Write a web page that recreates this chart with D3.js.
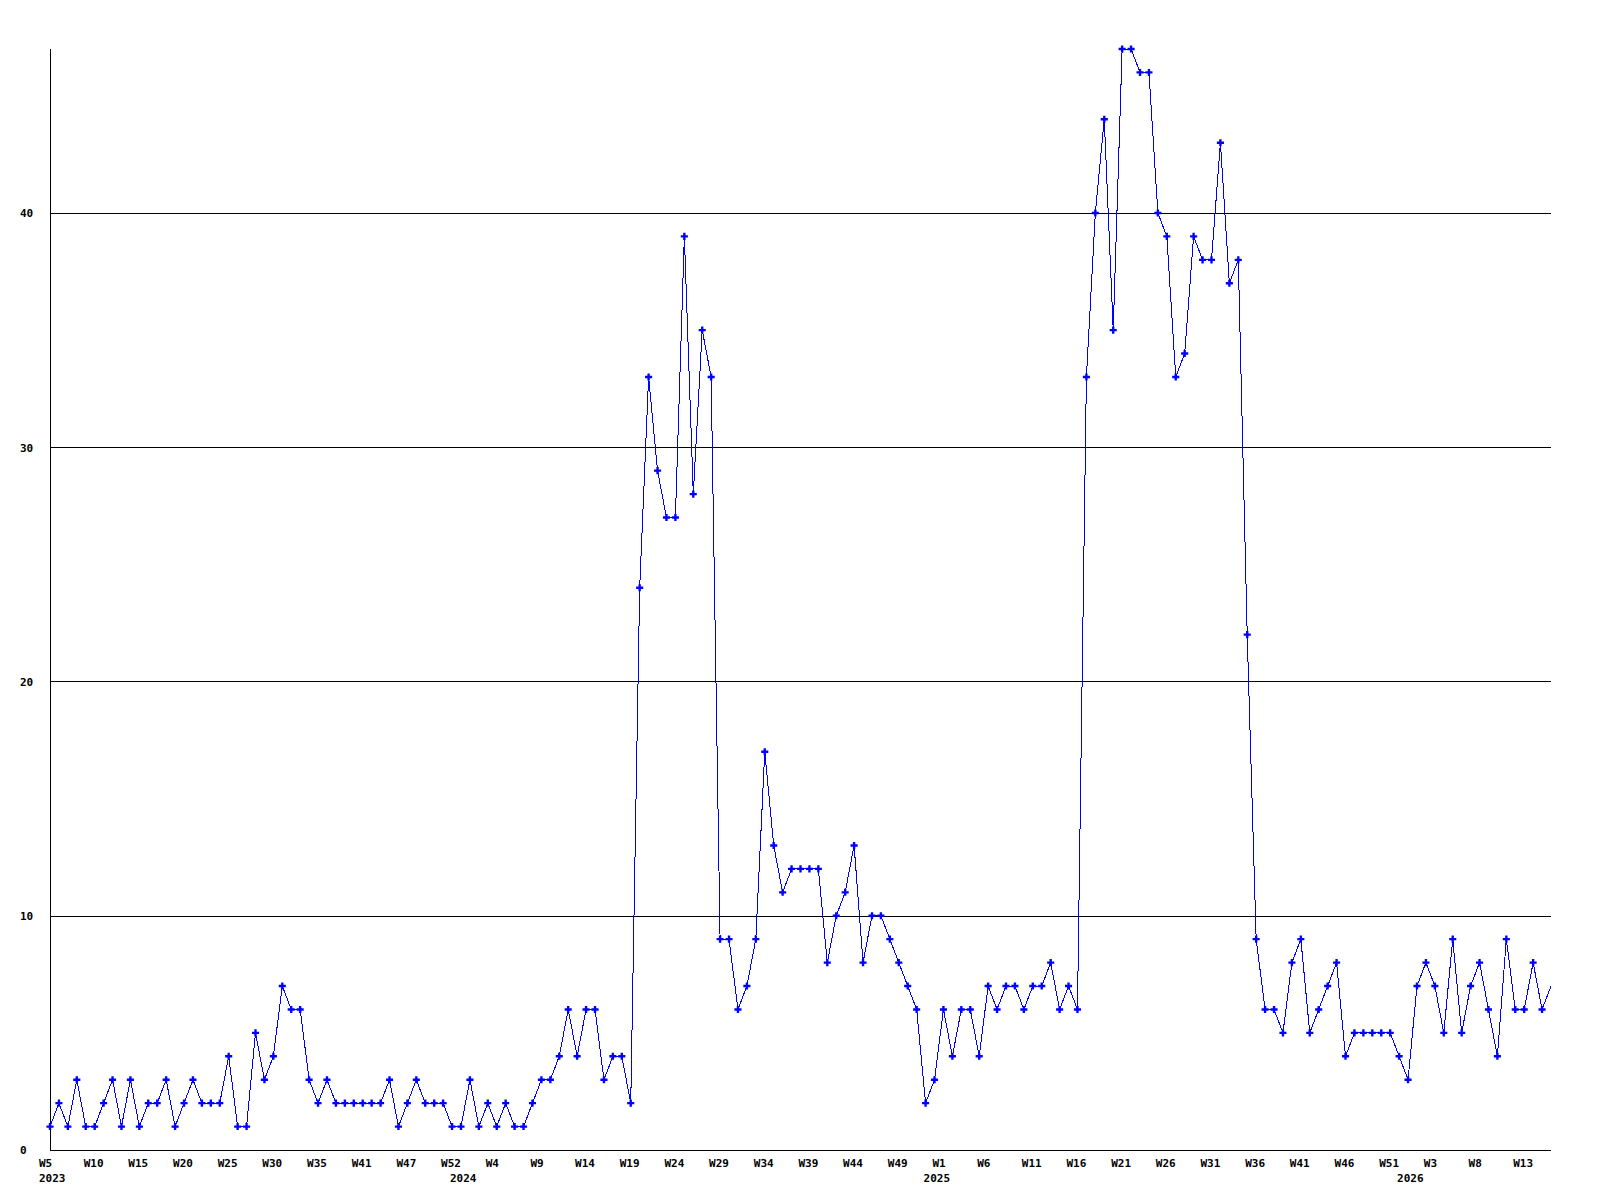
<!DOCTYPE html>
<html>
<head>
<meta charset="utf-8">
<script src="https://cdn.jsdelivr.net/npm/d3@7"></script>
<style>
  body { margin: 0; background: #fff; }
  svg text { font-family: 'DejaVu Sans Mono', monospace; font-weight: bold; font-size: 11px; fill: #000; }
</style>
</head>
<body>
<script>
var LINE_BLUE = '#0000ff'

// weekly counts, one per point, starting at 2023 W5
var counts = [
  1,2,1,3,1,1,2,3,1,3,
  1,2,2,3,1,2,3,2,2,2,
  4,1,1,5,3,4,7,6,6,3,
  2,3,2,2,2,2,2,2,3,1,
  2,3,2,2,2,1,1,3,1,2,
  1,2,1,1,2,3,3,4,6,4,
  6,6,3,4,4,2,24,33,29,27,
  27,39,28,35,33,9,9,6,7,9,
  17,13,11,12,12,12,12,8,10,11,
  13,8,10,10,9,8,7,6,2,3,
  6,4,6,6,4,7,6,7,7,6,
  7,7,8,6,7,6,33,40,44,35,
  47,47,46,46,40,39,33,34,39,38,
  38,43,37,38,22,9,6,6,5,8,
  9,5,6,7,8,4,5,5,5,5,
  5,4,3,7,8,7,5,9,5,7,
  8,6,4,9,6,6,8,6,7
]

// a label every 5th point
var weekLabels = ['W5','W10','W15','W20','W25','W30','W35','W41','W47','W52',
  'W4','W9','W14','W19','W24','W29','W34','W39','W44','W49',
  'W1','W6','W11','W16','W21','W26','W31','W36','W41','W46',
  'W51','W3','W8','W13']
var labelStep = 5

var years = ['2023', '2024', '2025', '2026']
var yearAt = [0, 46, 99, 152]

var yTicks = [0, 10, 20, 30, 40]
var yMax = 47

function draw(){
  var w = 1600, h = 1200
  var left = 50, right = 1551, top = 49, bottom = 1150

  var svg = d3.select('body').append('svg')
    .attr('width', w)
    .attr('height', h)

  var x = d3.scaleLinear().domain([0, counts.length - 1]).range([left, right])
  var y = d3.scaleLinear().domain([0, yMax]).range([bottom, top])

  // horizontal grid + y labels
  var yAxis = svg.append('g')
    .attr('transform', 'translate(' + left + ',0)')
    .call(d3.axisLeft(y).tickValues(yTicks).tickSize(-(right - left)).tickFormat(d3.format('d')))
  yAxis.select('.domain').remove()
  yAxis.selectAll('line')
    .attr('stroke', '#000')
    .attr('shape-rendering', 'crispEdges')
  yAxis.selectAll('text')
    .attr('x', 20 - left)
    .attr('dy', '0.36em')
    .attr('text-anchor', 'start')

  // week labels
  var tickIdx = weekLabels.map(function(d, i){ return i * labelStep })
  var xAxis = svg.append('g')
    .attr('transform', 'translate(0,' + bottom + ')')
    .call(d3.axisBottom(x).tickValues(tickIdx).tickSize(0).tickFormat(function(d, i){ return weekLabels[i] }))
  xAxis.select('.domain').remove()
  xAxis.selectAll('text')
    .attr('text-anchor', 'start')
    .attr('x', -11.5)
    .attr('y', 17)
    .attr('dy', 0)

  svg.append('g').selectAll('text')
    .data(years)
    .enter()
    .append('text')
    .attr('x', function(d, i){ return x(yearAt[i]) - 11 })
    .attr('y', bottom + 32)
    .text(function(d){ return d })

  // axis lines
  svg.append('line')
    .attr('x1', left).attr('x2', left)
    .attr('y1', top).attr('y2', bottom)
    .attr('stroke', '#000')
    .attr('shape-rendering', 'crispEdges')
  svg.append('line')
    .attr('x1', left).attr('x2', right)
    .attr('y1', bottom).attr('y2', bottom)
    .attr('stroke', '#000')
    .attr('shape-rendering', 'crispEdges')

  var line = d3.line()
    .x(function(d, i){ return x(i) })
    .y(function(d){ return y(d) })

  svg.append('path')
    .datum(counts)
    .attr('d', line)
    .attr('fill', 'none')
    .attr('stroke', LINE_BLUE)
    .attr('stroke-width', 1)
    .attr('shape-rendering', 'crispEdges')

  // markers, last point is left bare like the original
  var marker = d3.symbol().type(d3.symbolCross).size(28)
  svg.append('g').selectAll('path')
    .data(counts.slice(0, counts.length - 1))
    .enter()
    .append('path')
    .attr('d', marker)
    .attr('transform', function(d, i){ return 'translate(' + x(i) + ',' + y(d) + ')' })
    .attr('fill', LINE_BLUE)
}

draw()
</script>
</body>
</html>
